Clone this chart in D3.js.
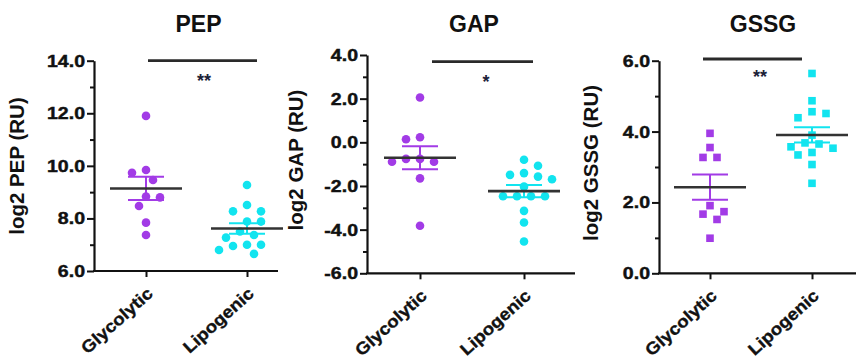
<!DOCTYPE html>
<html><head><meta charset="utf-8">
<script src="https://cdn.jsdelivr.net/npm/d3@7"></script>
<style>
body{margin:0;background:#fff}
svg{display:block}
text{font-family:"Liberation Sans",Arial,Helvetica,sans-serif;font-weight:bold;fill:#111}
</style>
</head><body>
<svg id="chart" width="856" height="361"></svg>
<script>
// ---------------- data ----------------
const categories = ["Glycolytic", "Lipogenic"];
const titles = ["PEP", "GAP", "GSSG"];
const yLabels = ["log2 PEP (RU)", "log2 GAP (RU)", "log2 GSSG (RU)"];
const significance = ["**", "*", "**"];

const pepGlycolytic = [11.90, 9.84, 9.46, 9.74, 8.80, 8.47, 8.83, 7.84, 7.37];
const pepLipogenic  = [9.27, 8.51, 8.27, 8.27, 7.88, 7.88, 7.50, 7.37, 7.27, 7.00, 6.95, 7.00, 6.80, 6.65];
const gapGlycolytic = [2.05, 0.23, 0.14, -0.76, -0.89, -0.89, -0.76, -1.65, -3.82];
const gapLipogenic  = [-0.80, -1.07, -1.41, -1.57, -1.49, -1.69, -2.03, -2.47, -2.47, -2.47, -2.47, -3.14, -3.67, -4.54];
const gssgGlycolytic = [3.95, 3.55, 3.27, 3.27, 1.91, 1.67, 1.74, 1.52, 0.99];
const gssgLipogenic  = [5.64, 4.87, 4.56, 4.51, 4.39, 3.90, 3.65, 3.68, 3.53, 3.57, 3.34, 3.41, 3.07, 2.54];

const yDomains = [[6, 14], [-6, 4], [0, 6]];
const yMajorTicks = [[6, 8, 10, 12, 14], [-6, -4, -2, 0, 2, 4], [0, 2, 4, 6]];
const yMinorTicks = [[7, 9, 11, 13], [-5, -3, -1, 1, 3], [1, 3, 5]];

const seriesByPanel = [
  [pepGlycolytic, pepLipogenic],
  [gapGlycolytic, gapLipogenic],
  [gssgGlycolytic, gssgLipogenic]
];

// ---------------- layout / style ----------------
const colors = ["#a23be6", "#12e4ef"];
const shapes = ["circle", "circle", "square"];
const layout = [
  {left: 94,  right: 278, cats: [146, 247], top: 60.7, bottom: 271,
   sig: [148, 257, 60.7], star: [204, 87], ylab: [24, 166]},
  {left: 367, right: 575, cats: [420, 524], top: 55,   bottom: 273.3,
   sig: [432, 533, 61.7], star: [486, 88], ylab: [303, 160]},
  {left: 659, right: 856, cats: [710, 812], top: 60.7, bottom: 273.3,
   sig: [703, 802, 59], star: [760, 83], ylab: [598, 163]}
];

const fmt = d3.formatLocale({decimal: ".", thousands: ",", grouping: [3], currency: ["", ""], minus: "-"}).format(".1f");
const svg = d3.select("#chart");

function swarm(values, y, step, D) {
  const order = values.map((v, i) => i).sort((a, b) => values[b] - values[a] || a - b);
  const placed = [];
  const off = new Array(values.length).fill(0);
  order.forEach((i, n) => {
    const py = y(values[i]);
    for (let k = 0; k < 30; k++) {
      const cands = k === 0 ? [0] : (n % 2 ? [k, -k] : [-k, k]);
      let found = null;
      for (const c of cands) {
        const px = c * step;
        if (placed.every(p => (p.x - px) ** 2 + (p.y - py) ** 2 >= D * D)) { found = px; break; }
      }
      if (found !== null) { off[i] = found; placed.push({x: found, y: py}); break; }
    }
  });
  return off;
}

layout.forEach((L, pi) => {
  const g = svg.append("g");
  const y = d3.scaleLinear().domain(yDomains[pi]).range([L.bottom, L.top]);
  const x = d3.scalePoint().domain(categories).range(L.cats).padding(0);

  // title
  g.append("text").attr("x", (L.cats[0] + L.cats[1]) / 2 + 2).attr("y", 32)
    .attr("text-anchor", "middle").style("font-size", "23px").text(titles[pi]);

  // y axis label
  g.append("text").attr("transform", `translate(${L.ylab[0]},${L.ylab[1]}) rotate(-90)`)
    .attr("text-anchor", "middle").style("font-size", "20.5px").text(yLabels[pi]);

  // minor ticks
  const minor = g.append("g").attr("transform", `translate(${L.left},0)`)
    .call(d3.axisLeft(y).tickValues(yMinorTicks[pi]).tickSize(4).tickFormat(""));
  minor.select(".domain").remove();
  // major axis
  const ya = g.append("g").attr("transform", `translate(${L.left},0)`)
    .call(d3.axisLeft(y).tickValues(yMajorTicks[pi]).tickSize(7).tickSizeOuter(0).tickFormat(fmt));
  [ya, minor].forEach(a => {
    a.selectAll("line").attr("stroke", "#111").attr("stroke-width", 2);
    a.selectAll(".domain").attr("stroke", "#111").attr("stroke-width", 2.2);
  });
  ya.selectAll("text").attr("x", 0).attr("transform", "translate(-9,0) scale(1.15,1)")
    .style("font-size", "17px").attr("fill", "#111").attr("stroke", "#111").attr("stroke-width", 0.45)
    .style("font-family", "'Liberation Sans',Arial,sans-serif").style("font-weight", "bold");

  // x axis
  const xa = g.append("g").attr("transform", `translate(0,${L.bottom})`)
    .call(d3.axisBottom(x).tickSize(6).tickFormat(""));
  xa.select(".domain").remove();
  xa.selectAll("line").attr("stroke", "#111").attr("stroke-width", 2);
  g.append("line").attr("x1", L.left - 1).attr("x2", L.right).attr("y1", L.bottom).attr("y2", L.bottom)
    .attr("stroke", "#111").attr("stroke-width", 2.2);
  categories.forEach(c => {
    g.append("text").attr("transform", `translate(${x(c) + 8},${L.bottom + 24}) rotate(-42) scale(1.1,1)`)
      .attr("text-anchor", "end").style("font-size", "17px")
      .attr("stroke", "#111").attr("stroke-width", 0.35).text(c);
  });

  // significance bar
  g.append("line").attr("x1", L.sig[0]).attr("x2", L.sig[1]).attr("y1", L.sig[2]).attr("y2", L.sig[2])
    .attr("stroke", "#2a2a2a").attr("stroke-width", 2.8);
  g.append("text").attr("x", L.star[0]).attr("y", L.star[1]).attr("text-anchor", "middle")
    .style("font-size", "18px").style("fill", "#1c2238").text(significance[pi]);

  // points
  seriesByPanel[pi].forEach((vals, ci) => {
    const cx = x(categories[ci]);
    const offs = swarm(vals, y, 7, 10);
    const col = colors[ci];
    if (shapes[pi] === "square") {
      g.selectAll(null).data(vals).enter().append("rect")
        .attr("x", (d, i) => cx + offs[i] - 3.8).attr("y", d => y(d) - 3.8)
        .attr("width", 7.6).attr("height", 7.6).attr("fill", col);
    } else {
      g.selectAll(null).data(vals).enter().append("circle")
        .attr("cx", (d, i) => cx + offs[i]).attr("cy", d => y(d)).attr("r", 4.3).attr("fill", col);
    }
    const m = d3.mean(vals);
    const sem = d3.deviation(vals) / Math.sqrt(vals.length);
    // SEM bars
    g.append("line").attr("x1", cx).attr("x2", cx).attr("y1", y(m + sem)).attr("y2", y(m - sem))
      .attr("stroke", col).attr("stroke-width", 2);
    [m + sem, m - sem].forEach(v => {
      g.append("line").attr("x1", cx - 18).attr("x2", cx + 18).attr("y1", y(v)).attr("y2", y(v))
        .attr("stroke", col).attr("stroke-width", 2);
    });
    // mean line
    g.append("line").attr("x1", cx - 36).attr("x2", cx + 36).attr("y1", y(m)).attr("y2", y(m))
      .attr("stroke", "#333").attr("stroke-width", 2.6);
  });
});
</script>
</body></html>
